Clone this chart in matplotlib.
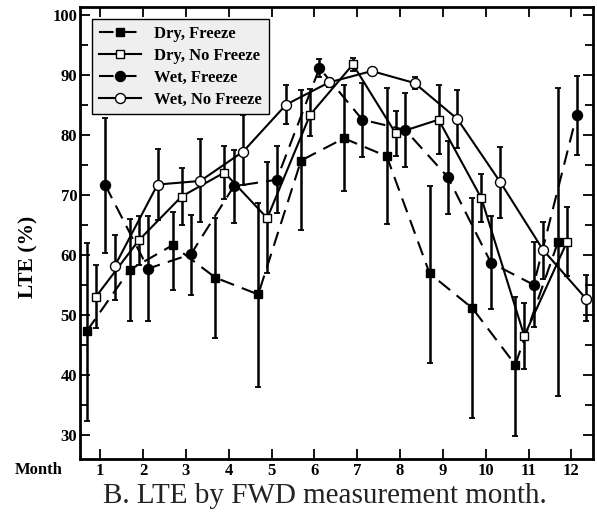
import matplotlib
matplotlib.use("Agg")
import matplotlib.pyplot as plt
import numpy as np

months = np.arange(1, 13)

# LTE (%) means and error bar ends
dry_freeze = [47.3, 57.5, 61.6, 56.2, 53.4, 75.7, 79.4, 76.4, 56.9, 51.1, 41.7, 62.2]
dry_freeze_hi = [61.9, 66.0, 67.2, 66.1, 68.6, 87.4, 88.3, 87.8, 71.5, 69.4, 53.0, 87.8]
dry_freeze_lo = [32.4, 49.0, 54.2, 46.1, 38.0, 64.2, 70.7, 65.2, 42.0, 32.9, 29.8, 36.5]

dry_nofreeze = [53.0, 62.4, 69.7, 73.7, 66.1, 83.3, 91.7, 80.2, 82.5, 69.4, 46.5, 62.2]
dry_nofreeze_hi = [58.3, 66.4, 74.4, 78.2, 75.4, 87.6, 92.8, 84.0, 88.2, 73.5, 52.0, 68.0]
dry_nofreeze_lo = [47.8, 58.3, 65.0, 69.3, 56.9, 79.7, 90.6, 76.4, 76.8, 65.4, 41.0, 56.4]

wet_freeze = [71.6, 57.7, 60.1, 71.4, 72.5, 91.1, 82.5, 80.8, 72.9, 58.7, 55.0, 83.2]
wet_freeze_hi = [82.8, 66.4, 66.7, 77.5, 78.2, 92.6, 88.6, 87.0, 78.9, 66.4, 62.2, 89.7]
wet_freeze_lo = [60.3, 48.9, 53.3, 65.3, 66.9, 89.6, 76.3, 74.6, 66.8, 51.0, 47.9, 76.7]

wet_nofreeze = [58.1, 71.7, 72.3, 77.2, 85.0, 88.7, 90.6, 88.6, 82.6, 72.1, 60.8, 52.7]
wet_nofreeze_hi = [63.3, 77.6, 79.2, 83.2, 88.3, 89.5, 91.1, 89.6, 87.5, 77.9, 65.5, 56.7]
wet_nofreeze_lo = [52.5, 65.8, 65.4, 71.7, 81.7, 87.9, 90.1, 87.6, 77.8, 66.1, 56.0, 48.9]

labels = ["Dry, Freeze", "Dry, No Freeze", "Wet, Freeze", "Wet, No Freeze"]

plt.rcParams['font.family'] = ['Liberation Serif', 'DejaVu Serif']

fig = plt.figure(figsize=(5.97, 5.21), dpi=100)
ax = fig.add_axes([0.134, 0.119, 0.859, 0.868])

dash = (0, (7, 4))
series = [
  (dry_freeze, dry_freeze_lo, dry_freeze_hi, -0.31, 's', 'black', 6.0, dash),
  (dry_nofreeze, dry_nofreeze_lo, dry_nofreeze_hi, -0.10, 's', 'white', 5.2, '-'),
  (wet_freeze, wet_freeze_lo, wet_freeze_hi, 0.12, 'o', 'black', 7.2, dash),
  (wet_nofreeze, wet_nofreeze_lo, wet_nofreeze_hi, 0.34, 'o', 'white', 7.2, '-'),
]

for (vals, lo, hi, off, mk, fc, ms, ls), lab in zip(series, labels):
  vals = np.array(vals)
  x = months + off
  yerr = [vals - np.array(lo), np.array(hi) - vals]
  ax.errorbar(x, vals, yerr=yerr, fmt='none', ecolor='black', elinewidth=1.8,
              capsize=2.2, capthick=1.3, zorder=2)
  ax.plot(x, vals, color='black', linestyle=ls, linewidth=1.5, marker=mk,
          markersize=ms, markerfacecolor=fc, markeredgecolor='black',
          markeredgewidth=1.0, label=lab, zorder=3)

ax.set_xlim(0.53, 12.5)
ax.set_ylim(26, 101.3)
ax.set_xticks(months)
ax.set_yticks(np.arange(30, 101, 10))
ax.set_yticks(np.arange(35, 101, 10), minor=True)
ax.tick_params(which='major', direction='in', top=True, right=True, length=7, width=1.3)
ax.tick_params(which='minor', direction='in', right=True, length=6, width=1.3)
ax.tick_params(axis='x', pad=3)
ax.tick_params(axis='y', pad=2)
for lbl in ax.get_xticklabels() + ax.get_yticklabels():
  lbl.set_fontweight('bold')
  lbl.set_fontsize(12)
for sp in ax.spines.values():
  sp.set_linewidth(2)

leg = ax.legend(loc='upper left', numpoints=1, handlelength=2.5, fancybox=False,
                framealpha=1, borderaxespad=0.75, labelspacing=0.35,
                prop={'weight': 'bold', 'size': 12})
leg.get_frame().set_facecolor('#efefef')
leg.get_frame().set_edgecolor('black')
leg.get_frame().set_linewidth(1.0)

fig.text(0.047, 0.507, "LTE (%)", rotation=90, ha='center', va='center',
         fontsize=15.5, fontweight='bold')
fig.text(0.064, 0.098, "Month", ha='center', va='center', fontsize=12, fontweight='bold')
fig.text(0.544, 0.048, "B. LTE by FWD measurement month.", ha='center', va='center',
         fontsize=21, color='#222222')

plt.savefig("out.png", dpi=100)
